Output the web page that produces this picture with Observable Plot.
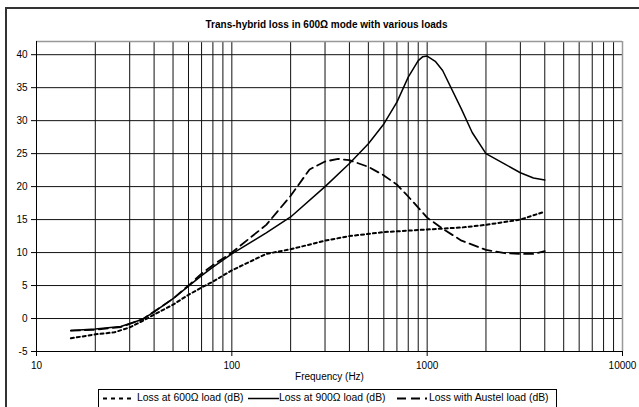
<!DOCTYPE html>
<html>
<head>
<meta charset="utf-8">
<script src="https://cdn.jsdelivr.net/npm/d3@7"></script>
<script src="https://cdn.jsdelivr.net/npm/@observablehq/plot@0.6"></script>
<style>
  html, body { margin: 0; padding: 0; background: #fff; }
  #wrap { position: relative; width: 639px; height: 407px; overflow: hidden; font-family: "Liberation Sans", Arial, sans-serif; }
  #outer { position: absolute; left: 5px; top: 7px; width: 700px; height: 500px; border: 2px solid #333; box-sizing: border-box; }
  #chart { position: absolute; left: 0; top: 0; }
  #legend { position: absolute; left: 98px; top: 389px; width: 459px; height: 19px; border: 1px solid #000; box-sizing: border-box; background: #fff;
            font-size: 10.4px; white-space: nowrap; }
  #legend svg { position: absolute; top: 3px; display: block; }
  #legend span { position: absolute; top: 2px; line-height: 12px; }
</style>
</head>
<body>
<div id="wrap">
  <div id="outer"></div>
  <div id="chart"></div>
  <div id="legend"></div>
</div>
<script>
const title = "Trans-hybrid loss in 600Ω mode with various loads";
const xLabel = "Frequency (Hz)";
const seriesNames = ["Loss at 600Ω load (dB)", "Loss at 900Ω load (dB)", "Loss with Austel load (dB)"];

const xTicks = [10, 100, 1000, 10000];
const xGrid = [20, 30, 40, 50, 60, 70, 80, 90, 100, 200, 300, 400, 500, 600, 700, 800, 900, 1000, 2000, 3000, 4000, 5000, 6000, 7000, 8000, 9000];
const yTicks = [-5, 0, 5, 10, 15, 20, 25, 30, 35, 40];

const freq600 = [15, 20, 25, 30, 35, 40, 50, 60, 70, 80, 100, 150, 200, 300, 400, 600, 1000, 1500, 2000, 3000, 4000];
const loss600 = [-3.0, -2.4, -2.1, -1.35, -0.35, 0.6, 2.1, 3.6, 4.7, 5.6, 7.3, 9.8, 10.5, 11.8, 12.5, 13.1, 13.5, 13.8, 14.2, 15.0, 16.2];

const freq900 = [15, 20, 27, 35, 40, 50, 60, 70, 80, 100, 150, 200, 300, 400, 500, 600, 700, 800, 900, 950, 1000, 1100, 1200, 1500, 1700, 2000, 2500, 3000, 3500, 4000];
const loss900 = [-1.8, -1.6, -1.2, -0.1, 1.0, 3.0, 4.9, 6.5, 7.8, 9.8, 13.0, 15.4, 20.0, 23.5, 26.5, 29.5, 32.8, 36.6, 39.1, 39.7, 39.8, 39.0, 37.6, 31.7, 28.2, 25.0, 23.4, 22.1, 21.3, 21.0];

const freqAustel = [15, 20, 27, 35, 50, 60, 70, 80, 100, 150, 200, 250, 300, 350, 400, 500, 600, 700, 800, 1000, 1200, 1500, 2000, 2500, 3000, 3500, 4000];
const lossAustel = [-1.85, -1.7, -1.3, -0.1, 3.0, 5.0, 6.8, 8.1, 10.0, 14.2, 18.6, 22.6, 23.8, 24.2, 24.0, 23.0, 21.7, 20.3, 18.5, 15.3, 13.6, 11.8, 10.4, 9.9, 9.8, 9.8, 10.2];

const styles = [
  {dash: "3,3", width: 2},
  {dash: null, width: 1.5},
  {dash: "9,5", width: 1.8}
];

const toRows = (fs, vs) => fs.map((f, i) => ({f, v: vs[i]}));
const s600 = toRows(freq600, loss600);
const s900 = toRows(freq900, loss900);
const sAus = toRows(freqAustel, lossAustel);

const lineOpts = (st) => ({x: "f", y: "v", stroke: "#000", strokeWidth: st.width, strokeDasharray: st.dash || undefined, curve: "linear"});

const chart = Plot.plot({
  width: 639,
  height: 407,
  marginLeft: 36,
  marginRight: 17,
  marginTop: 41,
  marginBottom: 56,
  style: {fontFamily: "Liberation Sans, Arial, sans-serif", fontSize: "10px", background: "transparent", color: "#000"},
  x: {type: "log", domain: [10, 10000]},
  y: {domain: [-5, 42]},
  marks: [
    Plot.frame({fill: "#fff", stroke: null}),
    Plot.ruleX(xGrid, {stroke: "#111", strokeWidth: 1}),
    Plot.ruleY(yTicks, {stroke: "#111", strokeWidth: 1}),
    Plot.ruleY([42], {stroke: "#999", strokeWidth: 1.5}),
    Plot.ruleX([10000], {stroke: "#999", strokeWidth: 1.5}),
    Plot.ruleX([10], {stroke: "#000", strokeWidth: 1}),
    Plot.ruleY([-5], {stroke: "#000", strokeWidth: 1}),
    Plot.axisX({ticks: xTicks, tickFormat: d => String(d), tickSize: 5, tickPadding: 5, label: null, fontSize: 10}),
    Plot.axisY({ticks: yTicks, tickFormat: d => String(d), tickSize: 5, tickPadding: 4, label: null, fontSize: 10}),
    Plot.line(s600, lineOpts(styles[0])),
    Plot.line(sAus, lineOpts(styles[2])),
    Plot.line(s900, lineOpts(styles[1])),
    Plot.text([title], {frameAnchor: "top", dy: -17, dx: -3, fontWeight: "bold", fontSize: 10, lineAnchor: "middle"}),
    Plot.text([xLabel], {frameAnchor: "bottom", dy: 25, fontSize: 10, lineAnchor: "middle"})
  ]
});
document.getElementById("chart").appendChild(chart);

// legend (positions relative to legend box)
const legend = document.getElementById("legend");
const swatchX = [4, 149, 298];
const swatchW = [31, 31, 30];
const textX = [38, 180, 330];
const legendDash = ["4,4", null, "9,5"];
seriesNames.forEach((name, i) => {
  const w = swatchW[i];
  const svg = d3.create("svg").attr("width", w).attr("height", 10).style("left", swatchX[i] + "px");
  svg.append("line").attr("x1", 0).attr("x2", w).attr("y1", 5.5).attr("y2", 5.5)
    .attr("stroke", "#000").attr("stroke-width", styles[i].width)
    .attr("stroke-dasharray", legendDash[i]);
  legend.appendChild(svg.node());
  const span = document.createElement("span");
  span.textContent = name;
  span.style.left = textX[i] + "px";
  legend.appendChild(span);
});
</script>
</body>
</html>
